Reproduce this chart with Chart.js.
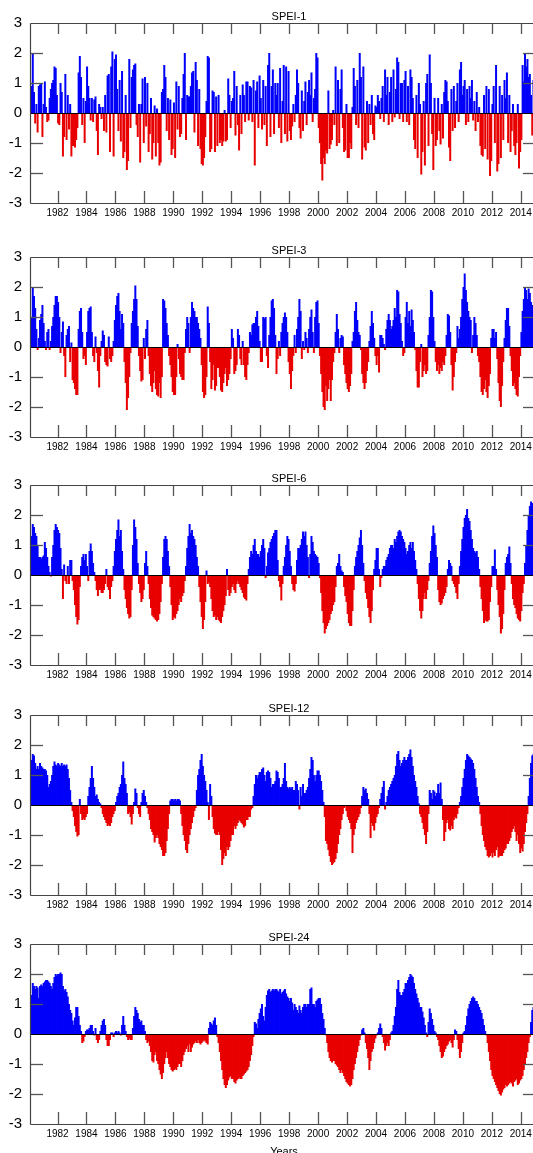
<!DOCTYPE html>
<html>
<head>
<meta charset="utf-8">
<script src="https://cdn.jsdelivr.net/npm/chart.js@4.4.1/dist/chart.umd.min.js"></script>
<style>
  body { margin: 0; width: 533px; height: 1153px; overflow: hidden; background: #fff; position: relative; }
  canvas { position: absolute; left: 0; }
</style>
</head>
<body>
<canvas id="c1" width="545" height="230" style="top:0px"></canvas>
<canvas id="c2" width="545" height="230" style="top:234px"></canvas>
<canvas id="c3" width="545" height="230" style="top:462px"></canvas>
<canvas id="c4" width="545" height="230" style="top:692px"></canvas>
<canvas id="c5" width="545" height="232" style="top:921px"></canvas>
<script>
// monthly series, one row per year (1980 ... 2014)
const startYear = 1980, startMonth = 2;
const yearTicks = [1982, 1984, 1986, 1988, 1990, 1992, 1994, 1996, 1998, 2000, 2002, 2004, 2006, 2008, 2010, 2012, 2014];
const valueTicks = [-3, -2, -1, 0, 1, 2, 3];
const titles = ['SPEI-1', 'SPEI-3', 'SPEI-6', 'SPEI-12', 'SPEI-24'];

const spei1 = [
  0.6, 0.9, 2.0, 0.7, -0.35, 0.3, -0.65, 0.9, 0.95, 1.0, -0.8, 0.3,
  1.05, 0.2, -0.3, -0.25, 0.5, 0.8, 1.0, 1.1, 1.55, 1.5, 0.6, -0.35,
  -0.4, 1.0, 0.7, -1.45, -0.8, 1.3, -0.9, 0.6, -0.55, 0.3, -1.45, -1.1,
  -1.1, -1.15, -0.9, -0.5, 1.35, 1.9, 1.2, -0.4, 0.5, -1.0, 0.4, 1.55,
  0.9, 0.5, -0.25, 0.5, -0.3, 0.45, 0.55, -0.6, -1.4, 0.3, 0.2, -0.2,
  0.2, -0.6, 0.6, -0.65, 1.25, 1.3, -1.3, 1.55, 2.05, -1.45, 1.8, 1.95,
  0.8, -0.6, 1.1, -0.95, 1.4, -1.5, -1.3, 0.6, -1.9, -1.6, 1.8, -0.5,
  1.2, 1.45, 1.6, 1.65, -0.4, -0.8, 0.3, -1.65, 0.3, 1.15, -1.0, 1.2,
  -0.45, 1.0, -1.3, -0.7, 0.5, -1.55, -1.0, 0.25, -1.45, 0.15, -1.0, -1.75,
  -1.65, 0.7, 0.8, 1.6, 1.2, -0.6, 0.5, -0.9, 0.45, -1.4, -1.2, 0.35,
  -1.5, 1.05, -0.55, 0.9, -0.8, -0.7, 0.5, 1.3, 2.0, -0.9, 0.6, 0.55,
  0.55, 0.9, 1.35, 1.4, -0.65, 1.7, 1.1, -1.1, 0.8, -1.2, -1.7, -1.75,
  -1.5, -0.8, 0.4, 1.9, 1.85, -1.3, -1.2, 0.75, 0.7, -1.3, 0.55, -1.1,
  0.6, -1.0, -0.9, -1.1, -0.95, 0.1, -0.95, -0.9, 1.15, 0.6, -0.5, 0.4,
  0.5, 1.4, -0.75, 0.9, -0.4, -1.25, 0.6, -0.7, 0.95, 0.6, -0.3, 1.05,
  1.05, -0.25, 0.9, 0.85, -0.3, 1.1, -1.75, 0.75, 1.05, -0.5, 1.25, 0.5,
  -0.55, 1.1, -0.4, 0.9, -1.1, 1.6, 2.0, -0.8, 0.9, 1.45, -0.7, 1.0,
  0.6, 1.0, -0.5, 1.5, -1.0, 0.4, 1.6, -0.7, 1.55, -0.95, 1.4, -0.6,
  -0.9, -0.45, 0.3, -0.3, 0.6, 1.45, 1.0, -0.5, -0.85, 0.75, -0.6, 0.4,
  1.05, -0.4, 0.7, 1.1, 0.6, 1.35, -0.3, 0.5, 0.8, 2.0, 1.85, -0.5,
  -1.0, -1.7, -2.25, -1.5, -1.7, -1.25, -1.35, 0.75, -1.2, -1.05, -0.9, 0.1,
  -0.4, 1.55, -1.1, 1.1, -1.0, 0.8, 1.45, -0.5, -1.3, -1.25, 0.3, -1.5,
  -1.5, -1.0, -1.2, 0.2, 1.5, 0.9, -0.4, 1.1, -0.5, 2.0, 1.2, -1.55,
  1.55, -1.15, -1.25, 0.4, -1.0, 0.3, -0.4, 0.6, -0.7, -0.9, 0.25, 0.2,
  0.6, 0.4, -0.2, 0.5, 0.9, -0.3, 1.45, 0.6, 1.2, -0.4, 0.7, 1.2,
  -0.3, 1.45, -0.15, 0.8, 1.85, 1.7, -0.2, 1.0, 1.0, -0.3, 1.1, 1.4,
  -0.3, 0.9, -0.4, 1.45, 1.2, 0.5, -0.9, -1.2, 0.6, -1.5, 1.0, 0.3,
  -2.05, -1.3, 0.4, -1.75, 1.0, 1.3, -1.1, 1.95, 1.0, -0.7, -1.9, 0.5,
  -1.1, -0.9, 0.5, -0.6, -1.05, 0.3, -0.85, 0.7, 1.1, 1.05, 0.4, -1.15,
  -1.6, 0.8, -0.6, 0.9, -0.5, 0.4, 1.0, -0.3, 1.45, 1.7, 0.6, 0.9,
  1.1, -0.4, 0.8, -0.3, 0.9, 0.5, 1.1, -0.25, 0.4, -0.6, 0.7, -0.3,
  0.2, -1.1, -1.4, -1.45, 0.6, -1.2, 0.9, -1.55, 0.8, -2.1, -1.6, 0.3,
  0.9, -1.0, 1.6, -1.95, -1.7, 0.9, -1.5, 0.6, -0.9, 1.1, 0.5, 1.35,
  -1.0, 0.6, -1.3, -0.6, 0.3, -1.1, -1.4, -1.0, 0.3, -1.85, -1.3, -0.9,
  1.6, 1.05, 2.0, 1.55, 1.8, 1.2, 1.3, 0.6, -0.75, 1.1, 0.4, -0.3
];

const spei3 = [
  0.5, 1.0, 2.0, 1.7, 1.3, 0.6, -0.1, 0.3, 0.9, 1.1, 1.4, 0.8,
  0.2, -0.1, 0.5, 0.6, -0.1, 0.2, 0.7, 1.0, 1.4, 1.7, 1.7, 1.5,
  1.0, -0.2, 0.5, 0.85, -0.3, -1.0, 0.4, 0.6, 0.7, -0.5, 0.15, -1.1,
  -1.2, -1.4, -1.6, -1.6, 0.6, 1.2, 1.3, 0.5, -0.4, -0.3, -0.6, 0.5,
  1.2, 1.3, 1.35, 0.5, -0.3, -0.5, 0.35, -0.2, -0.8, -1.35, -0.3, 0.2,
  0.55, 0.4, -0.5, -0.6, -0.65, 0.35, -0.4, -0.5, -0.3, 0.2, 0.9, 1.4,
  1.7, 1.8, 1.2, 0.6, 1.1, 0.8, -0.5, -1.2, -2.1, -1.7, -1.0, -0.2,
  0.8, 1.2, 1.6, 2.05, 1.6, 0.7, -0.3, -0.8, -1.15, -1.1, 0.3, -0.4,
  0.6, 0.9, -0.3, -0.9, -1.3, -1.5, -1.2, -0.8, -1.4, -1.6, -1.65, -1.2,
  -1.7, -1.0, 1.6, 1.55, 1.3, 0.8, 0.4, -0.3, -0.6, -1.0, -1.5, -1.6,
  -1.6, -1.0, 0.1, -0.4, -0.9, -1.0, -1.1, -1.1, -0.2, 0.6, 1.0, 0.8,
  -0.2, 1.0, 1.5, 1.3, 1.2, 1.0, 1.0, 0.8, 0.6, 0.3, -0.6, -1.5,
  -1.7, -1.6, -1.0, 1.35, 0.8, -0.5, -1.4, -1.1, -0.6, -1.45, -1.3, -0.7,
  -0.7, -1.0, -1.45, -1.5, -1.2, -0.9, -0.7, -1.3, -1.1, -0.9, -0.4, 0.6,
  0.3, -0.9, -0.8, -0.6, 0.6, 0.4, -0.4, -0.6, 0.2, -0.6, -1.0, -1.1,
  -0.6, -0.2, 0.5, 0.4, 0.75, 0.8, 0.8, 1.0, 1.2, 0.7, 0.2, -0.5,
  -0.5, 1.0, 0.95, 1.0, -0.3, -0.7, 0.4, 1.0, 1.55, 1.6, 1.3, 0.4,
  -0.9, -0.4, 0.2, -0.3, 0.5, 0.8, 1.0, 1.15, 1.0, 0.5, -0.5, -0.9,
  -1.4, -0.8, -0.3, 0.4, -0.2, 0.6, 1.0, 1.6, 1.2, -0.4, 0.2, -0.1,
  0.5, 0.3, -0.2, 0.6, 1.0, 1.25, 0.5, -0.2, 1.0, 1.5, 1.55, 0.8,
  -0.3, -0.9, -1.5, -2.0, -2.1, -1.3, -1.8, -1.4, -1.1, -1.8, -1.1, -0.5,
  -0.2, 0.5, 1.1, 0.6, -0.2, 0.3, 0.4, 0.35, -0.6, -0.9, -1.2, -1.4,
  -1.5, -1.3, -0.9, 0.2, 0.5, 1.2, 1.5, 0.9, 0.5, 0.4, -0.1, -0.9,
  -1.2, -1.4, -1.2, -0.8, -0.5, 0.2, 0.7, 1.2, 0.8, 0.3, -0.3, -0.6,
  -0.3, -0.85, 0.4, 0.4, 0.3, 0.1, -0.1, 0.6, 0.9, 1.1, 0.9, 0.6,
  0.7, 0.9, 1.3, 1.0, 1.9, 1.85, 1.1, 0.8, 0.2, -0.3, -0.2, 1.0,
  1.5, 0.8, 1.2, 0.7, 1.25, 0.9, 0.5, -0.1, -0.8, -1.35, -1.35, -0.5,
  0.1, -1.0, -0.8, -0.6, -0.9, -0.8, 0.4, 1.0, 1.9, 1.85, 1.0, 0.2,
  -0.5, -0.8, -0.6, -0.9, -0.7, -0.8, -0.5, -0.6, -0.3, 0.4, 1.1, 1.05,
  0.5, -0.6, -1.45, -1.0, -0.5, -0.2, 0.7, 0.3, 0.6, 1.0, 1.6, 2.0,
  2.45, 1.9, 1.5, 1.2, 1.0, 0.9, -0.2, 0.4, 1.0, 0.8, 0.4, -0.3,
  -0.5, -1.0, -1.5, -1.6, -1.4, -1.1, -1.5, -1.7, -1.3, -0.9, 0.3, 0.6,
  0.6, 0.3, 0.5, -0.4, -1.2, -1.8, -2.0, -1.3, -0.5, 0.3, 0.9, 1.3,
  1.3, 0.7, -0.3, -0.8, -1.3, -1.2, -1.4, -1.6, -1.65, -1.0, -0.3, 0.5,
  1.2, 1.6, 2.0, 1.9, 1.6, 1.95, 1.8, 1.5, 1.4, 1.3, 1.2, 1.0
];

const spei6 = [
  0.8, 1.3, 1.7, 1.6, 1.4, 1.3, 1.0, 0.6, 0.6, 0.55, 0.6, 0.65,
  1.1, 0.9, 0.6, 0.3, 0.1, -0.05, 0.6, 1.0, 1.5, 1.7, 1.6, 1.5,
  1.4, 0.9, 0.2, -0.8, 0.35, -0.2, -0.3, 0.3, -0.3, 0.5, 0.5, -0.2,
  -0.5, -1.0, -1.4, -1.65, -1.5, -0.4, 0.3, 0.6, 0.7, 0.5, 0.7, 0.3,
  -0.2, 0.8, 1.05, 0.8, 0.4, 0.1, -0.2, -0.5, -0.7, -0.5, -0.5, -0.6,
  -0.6, -0.5, -0.3, 0.2, -0.4, -0.5, -0.8, -0.4, -0.2, 0.3, 0.8, 1.2,
  1.5, 1.85, 1.3, 1.5, 0.8, 0.2, -0.5, -0.8, -1.1, -1.3, -1.45, -1.4,
  -0.5, 1.0, 1.85, 1.6, 1.2, 0.4, -0.3, -0.6, -0.9, -0.8, -0.5, 0.4,
  0.8, 0.3, -0.3, -0.8, -1.1, -1.35, -1.4, -1.45, -1.5, -1.55, -1.5, -1.3,
  -0.9, -0.3, 0.6, 1.2, 1.3, 1.2, 0.8, 0.3, -0.4, -1.0, -1.5, -1.4,
  -1.45, -1.3, -1.2, -1.0, -0.8, -0.9, -0.7, -0.6, -0.2, 0.3, 0.9, 1.3,
  1.7, 1.4, 1.5, 1.3, 1.2, 1.0, 0.6, 0.3, -0.4, -0.9, -1.4, -1.8,
  -1.5, -0.9, 0.15, -0.3, -0.25, -0.4, -0.8, -1.2, -1.4, -1.35, -1.5, -1.4,
  -1.5, -1.55, -1.6, -1.4, -1.2, -1.0, -0.7, 0.2, -0.5, -0.7, -0.6, -0.4,
  -0.3, -0.5, -0.6, -0.3, -0.2, -0.3, -0.4, -0.5, -0.6, -0.75, -0.8, -0.85,
  -0.3, 0.2, 0.6, 0.8, 0.7, 1.0, 1.2, 0.8, 0.7, 0.7, 0.6, 0.8,
  1.0, 1.2, 0.9, -0.1, 0.3, 0.75, 0.9, 1.1, 1.2, 1.3, 1.4, 1.5,
  1.5, 0.5, -0.2, -0.4, -0.85, -0.3, 0.3, 0.6, 1.0, 1.3, 1.2, 0.8,
  0.3, -0.3, -0.5, -0.55, -0.3, 0.5, 0.9, 0.9, 1.0, 1.2, 1.45, 1.3,
  1.45, 1.0, 0.6, -0.1, 0.7, 1.3, 1.1, 0.8, 0.7, 0.65, 0.6, 0.4,
  -0.1, -0.6, -1.2, -1.6, -1.95, -1.8, -1.7, -1.6, -1.5, -1.3, -1.2, -1.0,
  -0.9, -0.4, 0.3, 0.4, 0.7, 0.3, 0.15, 0.1, -0.4, -0.7, -0.9, -1.3,
  -1.6, -1.7, -1.7, -1.2, -0.5, 0.3, 0.6, 0.8, 1.0, 1.25, 1.5, 1.0,
  0.4, -0.2, -0.6, -0.8, -1.1, -1.4, -1.6, -1.2, -0.5, 0.2, 0.5, 0.9,
  0.9, 0.2, -0.4, -0.1, 0.2, 0.3, 0.3, 0.5, 0.6, 0.7, 0.9, 1.0,
  1.0, 0.9, 1.2, 1.1, 1.3, 1.45, 1.5, 1.45, 1.3, 1.2, 1.1, 0.9,
  0.7, 0.8, 1.0, 1.1, 0.9, 1.1, 0.8, 0.5, 0.2, -0.3, -0.8, -1.2,
  -1.45, -1.2, -0.8, -0.6, -0.8, -0.5, -0.2, 0.4, 0.8, 1.3, 1.65, 1.4,
  1.0, 0.6, -0.5, -0.9, -1.0, -0.95, -0.8, -0.7, -0.6, -0.4, 0.2, 0.5,
  0.4, 0.3, -0.2, -0.3, -0.4, -0.6, -0.8, -0.3, 0.3, 0.8, 1.2, 1.6,
  1.9, 2.0, 2.2, 1.9, 1.8, 1.5, 1.2, 0.9, 0.8, 0.75, 0.8, 0.6,
  0.2, -0.4, -0.8, -1.2, -1.6, -1.5, -1.55, -1.55, -1.5, -0.9, -0.4, 0.3,
  0.3, 0.85, 0.2, -0.5, -1.0, -1.4, -1.95, -1.8, -1.3, -0.5, 0.4, 0.6,
  0.7, 0.95, 0.4, -0.3, -0.8, -1.0, -1.1, -1.3, -1.45, -1.5, -1.55, -1.2,
  -0.6, -0.3, 0.4, 1.0, 1.5, 2.0, 2.3, 2.45, 2.4, 2.4, 2.3, 2.2
];

const spei12 = [
  1.0, 1.5, 1.7, 1.65, 1.4, 1.2, 1.3, 1.2, 1.4, 1.3, 1.25, 1.2,
  1.2, 1.15, 1.0, 0.6, 0.7, 0.8, 1.0, 1.3, 1.45, 1.35, 1.3, 1.4,
  1.35, 1.3, 1.4, 1.3, 1.35, 1.3, 1.35, 1.2, 0.9, 0.5, 0.1, -0.2,
  -0.4, -0.7, -0.9, -1.05, -1.0, 0.2, -0.3, -0.5, -0.45, -0.5, -0.4, -0.3,
  0.3, 0.6, 0.9, 1.3, 0.9, 0.6, 0.3, 0.35, 0.2, 0.1, 0.05, -0.1,
  -0.3, -0.4, -0.5, -0.6, -0.7, -0.65, -0.7, -0.6, -0.4, -0.3, -0.2, 0.1,
  0.3, 0.4, 0.6, 0.7, 1.0, 1.45, 0.9, 0.7, 0.4, -0.3, -0.25, -0.4,
  -0.65, -0.3, 0.1, 0.55, 0.4, -0.1, -0.3, -0.4, 0.1, 0.4, 0.5, 0.3,
  0.1, -0.1, -0.3, -0.5, -0.8, -0.9, -1.0, -1.25, -1.1, -1.0, -1.1, -1.3,
  -1.4, -1.5, -1.7, -1.7, -1.6, -1.2, -0.8, -0.3, 0.15, 0.2, 0.2, 0.15,
  0.2, 0.15, 0.2, 0.2, 0.15, -0.3, -0.7, -1.0, -1.2, -1.5, -1.6, -1.3,
  -1.0, -0.8, -0.6, -0.4, -0.2, -0.1, 0.5, 1.0, 1.2, 1.5, 1.7, 1.3,
  1.0, 0.8, 0.5, 0.1, -0.5, 0.7, 0.3, -0.4, -0.8, -0.95, -1.0, -1.0,
  -0.9, -1.0, -1.5, -2.0, -1.8, -1.6, -1.7, -1.4, -1.5, -1.4, -1.2, -1.0,
  -1.0, -0.7, -0.8, -0.7, -0.6, -0.5, -0.55, -0.6, -0.65, -0.75, -0.7, -0.5,
  -0.5, -0.4, -0.4, -0.15, -0.1, 0.3, 0.7, 1.0, 0.9, 1.0, 1.1, 1.1,
  1.2, 1.25, 1.0, 0.8, 1.1, 1.15, 1.1, 0.9, 0.6, 0.7, 0.7, 0.8,
  1.15, 1.1, 0.9, 0.6, 0.6, 0.7, 0.9, 1.4, 0.8, 0.6, 0.55, 0.6,
  0.55, 0.6, 0.5, 0.5, 0.8, 0.7, 0.5, -0.15, 0.6, 0.3, 0.7, 0.4,
  0.4, 0.5, 0.6, 0.9, 1.2, 1.6, 1.5, 1.0, 0.8, 1.0, 1.15, 1.15,
  1.0, 0.8, 0.5, 0.1, -0.4, -1.2, -1.3, -1.5, -1.7, -1.9, -2.0, -1.95,
  -1.9, -1.8, -1.6, -1.3, -1.0, -0.8, -0.5, -0.3, -0.1, -0.05, -0.2, -0.4,
  -0.5, -0.6, -0.8, -1.6, -1.0, -0.8, -0.6, -0.5, -0.4, -0.3, -0.1, 0.3,
  0.6, 0.5, 0.55, 0.4, 0.2, -0.3, -1.1, -0.6, -0.7, -0.85, -0.6, -0.4,
  -0.3, -0.1, 0.2, 0.4, 0.6, 0.8, -0.15, 0.1, 0.3, 0.5, 0.6, 0.7,
  0.8, 0.9, 1.0, 1.3, 1.7, 1.8, 1.5, 1.3, 1.4, 1.5, 1.6, 1.5,
  1.5, 1.6, 1.7, 1.85, 1.6, 1.3, 1.0, 0.8, 0.6, 0.3, 0.05, -0.3,
  -0.4, -0.6, -0.8, -1.0, -1.3, -0.9, -0.3, 0.5, 0.4, 0.2, 0.5, 0.45,
  0.3, 0.4, 0.7, 0.4, 0.75, 0.2, -0.5, -1.2, -0.9, -0.6, -0.5, -0.8,
  -0.85, -0.7, -0.8, -0.5, -0.4, -0.45, -0.3, -0.1, 0.1, 0.3, 0.6, 0.9,
  1.2, 1.5, 1.7, 1.65, 1.6, 1.55, 1.5, 1.4, 1.2, 0.9, 0.6, 0.3,
  0.1, -0.3, -0.7, -1.0, -1.2, -1.4, -1.5, -1.7, -1.75, -1.7, -1.6, -1.75,
  -1.6, -1.7, -1.5, -1.4, -1.75, -1.7, -1.7, -1.7, -1.6, -1.5, -1.45, -1.3,
  -1.3, -1.2, -1.1, -0.9, -0.8, -0.7, -0.9, -1.2, -1.0, -1.3, -1.6, -1.45,
  -1.55, -1.3, -0.9, -0.6, -0.3, 0.3, 0.9, 1.4, 1.65, 1.7, 1.7, 1.6
];

const spei24 = [
  1.2, 1.3, 1.7, 1.6, 1.5, 1.6, 1.55, 1.2, 1.6, 1.65, 1.6, 1.7,
  1.75, 1.8, 1.8, 1.75, 1.7, 1.6, 1.5, 1.7, 1.9, 2.0, 1.95, 2.0,
  2.0, 2.05, 2.0, 1.6, 1.45, 1.5, 1.4, 1.25, 1.0, 0.8, 0.7, 0.45,
  0.3, 0.55, 0.9, 0.9, 0.6, 0.3, 0.1, -0.3, -0.25, -0.1, 0.1, 0.15,
  0.15, 0.2, 0.3, 0.3, 0.1, -0.05, 0.2, -0.2, -0.3, -0.2, 0.1, 0.3,
  0.45, 0.5, 0.3, -0.2, -0.4, -0.4, -0.2, 0.05, 0.05, -0.1, 0.05, 0.1,
  0.05, 0.1, 0.05, -0.05, 0.3, 0.6, 0.3, 0.1, -0.1, -0.2, -0.15, -0.2,
  -0.2, 0.2, 0.6, 0.9, 0.8, 0.7, 0.5, 0.4, 0.45, 0.3, 0.3, 0.1,
  -0.2, -0.3, -0.25, -0.4, -0.6, -0.9, -0.95, -0.7, -0.6, -0.9, -1.0, -1.2,
  -1.35, -1.5, -1.3, -1.0, -0.8, -0.6, -0.8, -1.0, -1.1, -1.2, -1.25, -1.2,
  -1.15, -1.2, -1.1, -1.0, -1.0, -1.1, -0.9, -0.7, -0.6, -0.5, -0.4, -0.6,
  -0.35, -0.6, -0.45, -0.35, -0.3, -0.25, -0.3, -0.2, -0.3, -0.35, -0.3, -0.25,
  -0.2, -0.25, -0.3, -0.35, 0.2, 0.4, 0.35, 0.3, 0.45, 0.55, 0.3, -0.1,
  -0.3, -0.6, -0.9, -1.2, -1.5, -1.7, -1.8, -1.7, -1.55, -1.45, -1.4, -1.5,
  -1.5, -1.6, -1.65, -1.55, -1.5, -1.45, -1.5, -1.5, -1.4, -1.35, -1.3, -1.25,
  -1.2, -1.1, -0.9, -0.7, -0.4, -0.1, 0.4, 0.35, 0.2, 0.5, 0.7, 0.85,
  1.0, 0.6, 0.45, 0.9, 1.3, 1.45, 1.5, 1.4, 1.45, 1.5, 1.45, 1.5,
  1.5, 1.45, 1.4, 1.5, 1.35, 1.4, 1.45, 1.5, 1.35, 1.25, 1.2, 1.1,
  1.2, 1.05, 0.8, 1.0, 0.9, 0.8, 0.7, 0.95, 0.8, 0.7, 0.9, 1.0,
  1.0, 0.9, 1.0, 1.0, 1.5, 1.55, 1.0, 1.0, 0.9, 1.1, 1.15, 1.2,
  1.2, 1.0, 0.7, 0.5, 0.2, -0.05, -0.3, -0.6, -0.8, -0.9, -0.95, -0.9,
  -0.9, -1.0, -1.05, -1.1, -1.2, -1.3, -1.2, -1.3, -1.4, -1.5, -1.6, -1.65,
  -1.7, -1.75, -1.7, -1.5, -1.2, -1.0, -0.8, -0.6, -0.4, -0.2, -0.05, 0.15,
  0.2, 0.05, -0.3, -0.5, -0.8, -1.2, -0.9, -0.6, -0.5, -0.3, -0.15, -0.05,
  0.05, 0.2, 0.35, 0.2, -0.1, -0.3, -0.55, -0.4, -0.3, -0.4, -0.2, 0.05,
  0.1, 0.3, 0.6, 0.9, 1.5, 1.8, 1.4, 1.3, 1.3, 1.4, 1.5, 1.7,
  1.7, 1.8, 1.9, 2.0, 1.95, 1.9, 1.7, 1.5, 1.35, 1.2, 1.05, 0.9,
  0.9, 0.75, 0.55, 0.3, 0.05, -0.1, 0.4, 0.85, 0.7, 0.5, 0.3, 0.1,
  0.05, -0.1, -0.2, -0.4, -0.6, -0.8, -0.75, -0.6, -0.5, -0.4, -0.35, -0.25,
  -0.2, -0.3, -0.45, -0.2, 0.15, 0.1, -0.2, -0.5, -0.8, -0.6, -0.3, 0.05,
  0.1, 0.3, 0.6, 0.85, 1.0, 1.1, 1.2, 1.25, 1.2, 1.1, 1.1, 1.0,
  0.9, 0.8, 0.7, 0.5, 0.3, 0.1, -0.05, -0.3, -0.6, -0.9, -1.2, -1.4,
  -1.5, -1.6, -1.7, -1.8, -1.9, -2.0, -2.05, -1.95, -1.85, -1.8, -1.7, -1.75,
  -1.7, -1.65, -1.6, -1.65, -1.75, -1.6, -1.55, -1.5, -1.7, -1.65, -1.55, -1.5,
  -1.4, -1.2, -1.0, -0.8, -0.6, -0.3, -0.1, 0.4, 0.8, 0.9, 0.85, 0.8
];

const BLUE = 'rgb(0,0,250)';
const RED = 'rgb(232,0,0)';

Chart.defaults.font.family = '"Liberation Sans", Arial, sans-serif';
Chart.defaults.color = '#000';

function line(ctx, x1, y1, x2, y2) {
  ctx.beginPath();
  ctx.moveTo(x1, y1);
  ctx.lineTo(x2, y2);
  ctx.stroke();
}

// frame, inward ticks, zero line and panel title
const decor = {
  id: 'decor',
  afterDatasetsDraw(chart, args, opts) {
    const ctx = chart.ctx, a = chart.chartArea;
    const x = chart.scales.x, y = chart.scales.y;
    ctx.save();
    ctx.strokeStyle = '#555';
    ctx.lineWidth = 1.3;
    yearTicks.forEach(yr => {
      const px = Math.round(x.getPixelForValue(yr)) + 0.5;
      line(ctx, px, a.bottom, px, a.bottom - 12);
      line(ctx, px, a.top, px, a.top + 11);
    });
    valueTicks.forEach(v => {
      if (v === 0 || Math.abs(v) === 3) return;
      const py = Math.round(y.getPixelForValue(v)) + 0.5;
      line(ctx, a.left, py, a.left + 13, py);
      line(ctx, a.right, py, a.right - 13, py);
    });
    ctx.strokeStyle = '#000';
    ctx.lineWidth = 1;
    const y0 = Math.round(y.getPixelForValue(0)) + 0.5;
    line(ctx, a.left, y0, a.right, y0);
    ctx.strokeStyle = '#444';
    ctx.lineWidth = 1.2;
    const t = Math.round(a.top) + 0.5, b = Math.round(a.bottom) + 0.5, l = Math.round(a.left) + 0.5;
    line(ctx, l, t, a.right, t);
    line(ctx, l, b, a.right, b);
    line(ctx, l, t, l, b);

    ctx.fillStyle = '#000';
    ctx.font = '11px "Liberation Sans", Arial, sans-serif';
    ctx.textAlign = 'center';
    ctx.textBaseline = 'alphabetic';
    ctx.fillText(opts.title, 289, a.top - 3);
    if (opts.xTitle) ctx.fillText(opts.xTitle, 284, a.bottom + 31);
    ctx.restore();
  }
};

function makeChart(id, title, values, xTitle) {
  const canvas = document.getElementById(id);
  const pts = values.map((v, i) => ({ x: startYear + (startMonth - 1 + i + 0.5) / 12, y: v }));
  const colors = values.map(v => v >= 0 ? BLUE : RED);
  return new Chart(canvas, {
    type: 'bar',
    data: {
      datasets: [{
        data: pts,
        backgroundColor: colors,
        borderWidth: 0,
        barThickness: 2,
        inflateAmount: 0
      }]
    },
    options: {
      responsive: false,
      animation: false,
      devicePixelRatio: 1,
      events: [],
      layout: { padding: { top: 23, right: 9, left: 0, bottom: 0 } },
      plugins: {
        legend: { display: false },
        tooltip: { enabled: false },
        decor: { title: title, xTitle: xTitle }
      },
      scales: {
        x: {
          type: 'linear',
          min: 1980.1,
          max: 2015.05,
          offset: false,
          grid: { display: false, drawTicks: false },
          border: { display: false },
          afterBuildTicks: s => { s.ticks = yearTicks.map(v => ({ value: v })); },
          afterFit: s => { s.height = canvas.height - 23 - 180; },
          ticks: {
            autoSkip: false,
            maxRotation: 0,
            padding: 4,
            font: { size: 10 },
            callback: v => String(v)
          }
        },
        y: {
          min: -3,
          max: 3,
          grid: { display: false, drawTicks: false },
          border: { display: false },
          afterBuildTicks: s => { s.ticks = valueTicks.map(v => ({ value: v })); },
          afterFit: s => { s.width = 30; },
          ticks: {
            padding: 8,
            font: { size: 15 },
            callback: v => String(v)
          }
        }
      }
    },
    plugins: [decor]
  });
}

makeChart('c1', titles[0], spei1);
makeChart('c2', titles[1], spei3);
makeChart('c3', titles[2], spei6);
makeChart('c4', titles[3], spei12);
makeChart('c5', titles[4], spei24, 'Years');

[spei1, spei3, spei6, spei12, spei24].forEach((s, k) => {
  if (s.length !== 420) throw new Error(titles[k] + ' has ' + s.length + ' values');
});
</script>
</body>
</html>
